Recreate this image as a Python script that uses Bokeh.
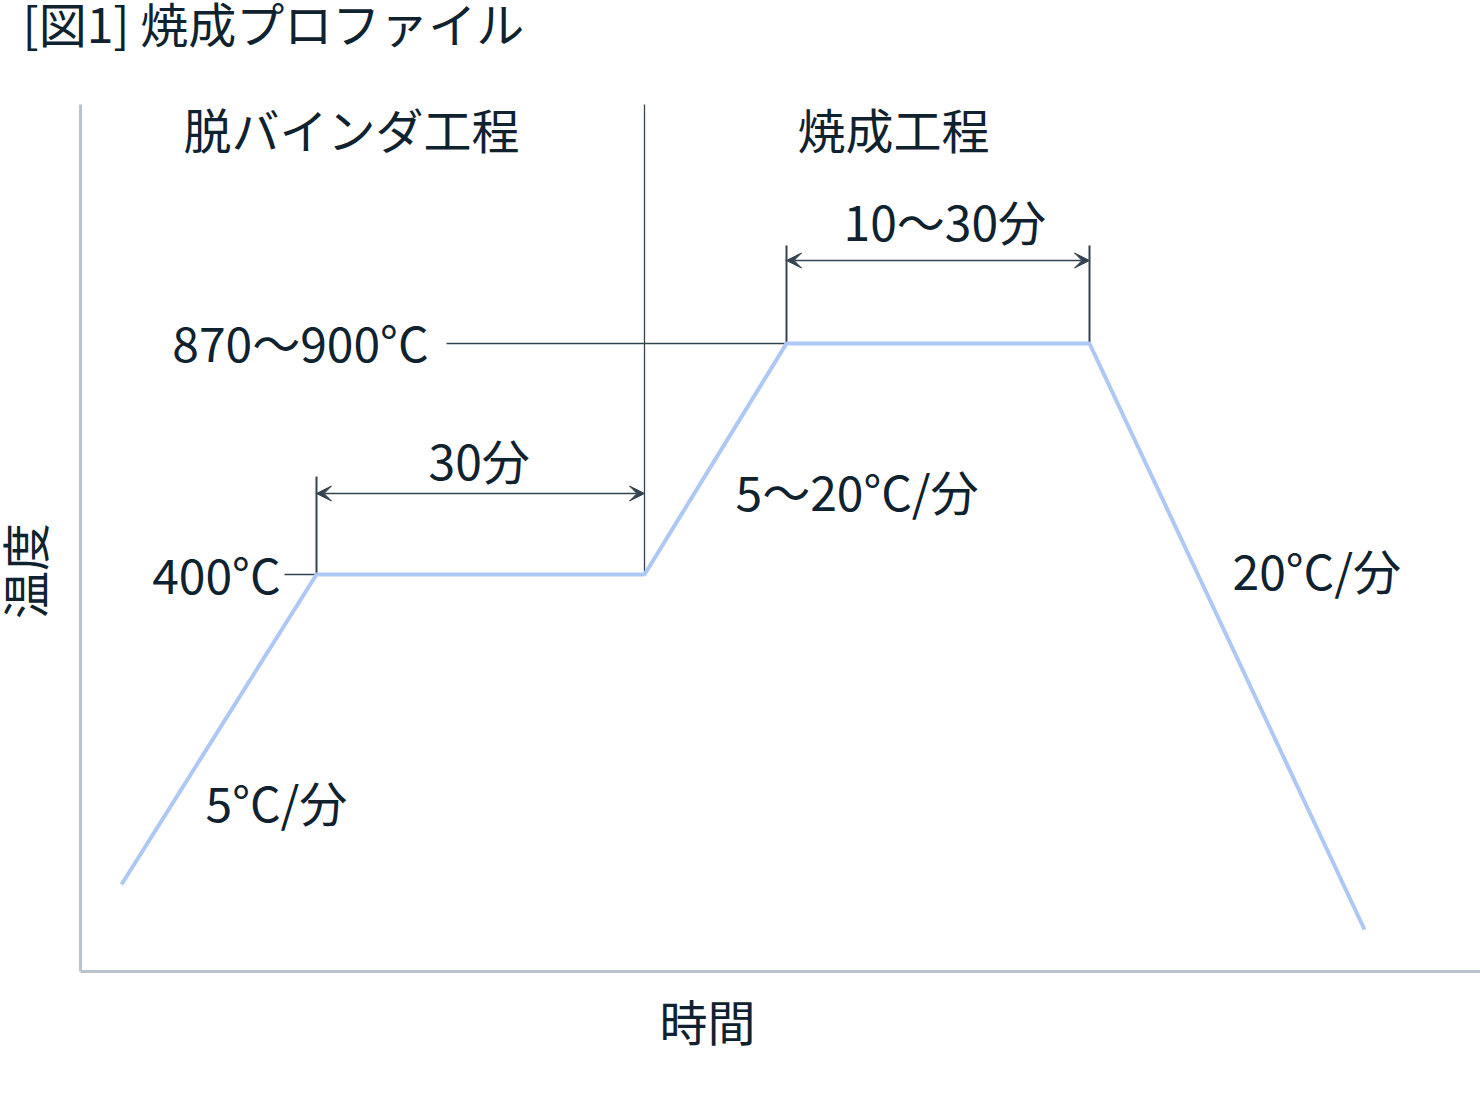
from bokeh.plotting import figure
from bokeh.models import Range1d, Label, Arrow, VeeHead
from bokeh.embed import file_html
from bokeh.resources import INLINE
import math

# ---- schematic data (time units, temperature level units) ----
profile_time = [4.1, 23.6, 56.4, 70.6, 100.9, 128.4]
profile_level = [8.7, 39.7, 39.7, 62.8, 62.8, 4.2]

# key levels / times of the profile
level_400 = 39.7
level_900 = 62.8
debind_start = 23.6
debind_end = 56.4
sinter_start = 70.6
sinter_end = 100.9

# axis extents (schematic units)
time_axis = [0.0, 140.0]
level_axis = [0.0, 86.7]

title_text = "[図1] 焼成プロファイル"
stage_labels = ["脱バインダ工程", "焼成工程"]
temp_labels = ["870～900°C", "400°C"]
hold_labels = ["30分", "10～30分"]
rate_labels = ["5°C/分", "5～20°C/分", "20°C/分"]
x_label = "時間"
y_label = "温度"

FONT = "Noto Sans CJK JP"
TXT = "#0f2230"
DIM = "#33434f"
PROFILE = "#aec8f6"
AXIS = "#b9c3cb"
FS = "48px"

p = figure(width=1480, height=1078, output_backend="svg", toolbar_location=None,
           x_range=Range1d(-8.0, 140.0), y_range=Range1d(-10.7, 97.1),
           x_axis_location=None, y_axis_location=None,
           min_border=0, min_border_left=0, min_border_right=0,
           min_border_top=0, min_border_bottom=0)
p.grid.visible = False
p.outline_line_color = None

# axis lines
p.segment(x0=[time_axis[0], time_axis[0]], y0=[level_axis[0], level_axis[0]],
          x1=[time_axis[1], time_axis[0]], y1=[level_axis[0], level_axis[1]],
          line_color=AXIS, line_width=3)

# guide lines
p.segment(x0=[debind_end], y0=[level_axis[1]], x1=[debind_end], y1=[level_400], line_color=DIM, line_width=1.3)
p.segment(x0=[36.6], y0=[level_900], x1=[sinter_start], y1=[level_900], line_color=DIM, line_width=1.3)
p.segment(x0=[20.4], y0=[level_400], x1=[debind_start], y1=[level_400], line_color=DIM, line_width=1.3)
# extension lines for dimensions
p.segment(x0=[debind_start, sinter_start, sinter_end],
          y0=[level_400, level_900, level_900],
          x1=[debind_start, sinter_start, sinter_end],
          y1=[level_400 + 9.8, level_900 + 9.8, level_900 + 9.8],
          line_color=DIM, line_width=2)

# dimension arrows
def head():
    return VeeHead(size=15, fill_color=DIM, line_color=DIM, line_width=1)
for xs, xe, yy in [(debind_start, debind_end, level_400 + 8.1), (sinter_start, sinter_end, level_900 + 8.3)]:
    p.add_layout(Arrow(x_start=xs, y_start=yy, x_end=xe, y_end=yy, start=head(), end=head(),
                       line_color=DIM, line_width=1.5))

# profile
p.line(profile_time, profile_level, line_color=PROFILE, line_width=4)

def lab(x, y, t, align="left", angle=0.0):
    p.add_layout(Label(x=x, y=y + 0.45, text=t, text_font=FONT, text_font_size=FS, text_color=TXT,
                       text_align=align, text_baseline="middle", angle=angle))

lab(-5.8, 94.5, title_text)
lab(10.3, 83.9, stage_labels[0])
lab(71.7, 83.9, stage_labels[1])
lab(34.8, 62.6, temp_labels[0], align="right")
lab(20.0, 39.4, temp_labels[1], align="right")
lab(34.8, 50.8, hold_labels[0])
lab(76.3, 74.7, hold_labels[1])
lab(12.5, 16.6, rate_labels[0])
lab(65.5, 47.7, rate_labels[1])
lab(115.2, 39.8, rate_labels[2])
lab(57.9, -5.3, x_label)
lab(-5.75, 39.6, y_label, align="center", angle=math.pi / 2)

open("out.html", "w").write(file_html(p, INLINE))
